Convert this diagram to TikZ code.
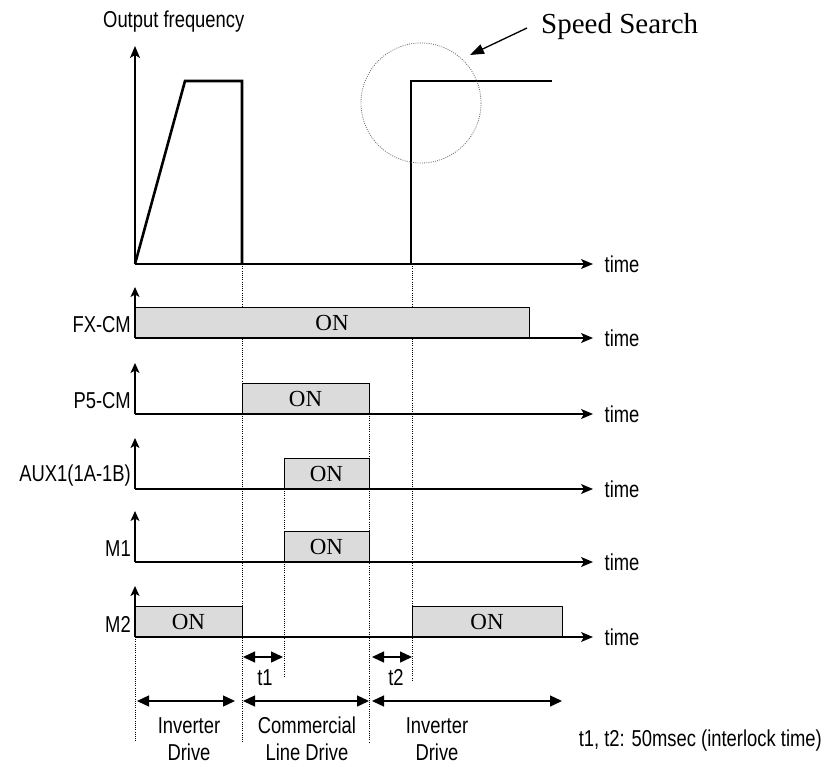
\documentclass[tikz,border=0pt]{standalone}
\usepackage{fontspec}
\setmainfont{Liberation Serif}
\newfontfamily\narrowsf[FakeStretch=0.8]{Liberation Sans}
\usetikzlibrary{arrows.meta}

\tikzset{
	lbl/.style={font=\narrowsf\fontsize{23}{27}\selectfont, inner sep=0pt},
	ontext/.style={font=\fontsize{23}{25}\selectfont, inner sep=0pt},
	onbox/.style={draw, fill=black!14, line width=0.9pt},
	guide/.style={line width=0.8pt, dash pattern=on 0.9pt off 1.3pt},
	axis/.style={line width=1.3pt, -{Stealth[length=12pt,width=10pt,inset=3pt]}},
	span/.style={line width=1.3pt, {Triangle[length=12pt,width=11pt]}-{Triangle[length=12pt,width=11pt]}},
	sig/.style={line width=2.6pt, line join=miter}
}

\begin{document}
\begin{tikzpicture}[x=1pt, y=-1pt, line join=round, >=Stealth]
	\useasboundingbox (0,0) rectangle (827,766);
	% output frequency
	\coordinate (o) at (135,264);
	\coordinate (otop) at (135,46);
	\coordinate (oend) at (593,264);
	\draw[axis] (o) -- (otop);
	\draw[axis] (o) -- (oend) node[lbl, right=11pt] (otime) {time};
	\node[lbl, anchor=west] (ofreq) at (103,22) {Output frequency};
	\draw[sig] (o) -- (185,81) -- (242,81) -- (242,264);
	\draw[sig] (411,264) -- (411,81) -- (552,81);
	\draw[guide, black!60] (421,103) circle[radius=60];
	\node[font=\fontsize{29}{32}\selectfont, inner sep=0pt, anchor=west] (ss) at (541,27) {Speed Search};
	\coordinate (sstip) at (470,55);
	\draw[line width=1.3pt, -{Triangle[length=14pt,width=10pt]}] ([xshift=-14pt,yshift=-1pt]ss.west) -- (sstip);
	% dotted guides
	\draw[guide] (135,637) -- (135,742);
	\draw[guide] (242,264) -- (242,742);
	\draw[guide] (284,458) -- (284,677);
	\draw[guide] (369,383) -- (369,742);
	\draw[guide] (412,264) -- (412,680);
	% ON boxes
	\foreach \a/\b/\y [count=\i] in {135/529/338, 242/369/414, 284/369/489, 284/369/562, 135/242/637, 412/562/637} {
		\draw[onbox] (\a,\y) rectangle (\b,\y-31);
		\node[ontext] (on\i) at ({(\a+\b)/2},\y-15.5) {ON};
	}
	% signal axes
	\foreach \y/\name/\id in {338/FX-CM/fx, 414/P5-CM/p5, 489/AUX1(1A-1B)/aux, 562/M1/ma, 637/M2/mb} {
		\coordinate (\id) at (135,\y);
		\coordinate (\id top) at (135,\y-51);
		\coordinate (\id end) at (593,\y);
		\draw[axis, -{Stealth[length=10pt,width=9pt,inset=2.5pt]}] (\id) -- (\id top);
		\draw[axis] (\id) -- (\id end) node[lbl, right=11pt] (\id time) {time};
		\node[lbl, anchor=east] (\id lbl) at (131,\y-13) {\name};
	}
	% interlock times
	\coordinate (ta) at (243,657);
	\coordinate (tb) at (283,657);
	\coordinate (tc) at (372,657);
	\coordinate (td) at (412,657);
	\draw[span] (ta) -- (tb);
	\draw[span] (tc) -- (td);
	\node[lbl] (t1) at (265,678) {t1};
	\node[lbl] (t2) at (396,678) {t2};
	% drive ranges
	\coordinate (da) at (137,701);
	\coordinate (db) at (235,701);
	\coordinate (dc) at (243,701);
	\coordinate (dd) at (369,701);
	\coordinate (de) at (372,701);
	\coordinate (df) at (562,701);
	\draw[span] (da) -- (db);
	\draw[span] (dc) -- (dd);
	\draw[span] (de) -- (df);
	\node[lbl, align=center] (inv1) at (189,739) {Inverter\\Drive};
	\node[lbl, align=center] (comm) at (307,739) {Commercial\\Line Drive};
	\node[lbl, align=center] (inv2) at (437,739) {Inverter\\Drive};
	\node[lbl, anchor=east] (note) at (822,741) {t1, t2: 50msec (interlock time)};
\end{tikzpicture}
\end{document}
